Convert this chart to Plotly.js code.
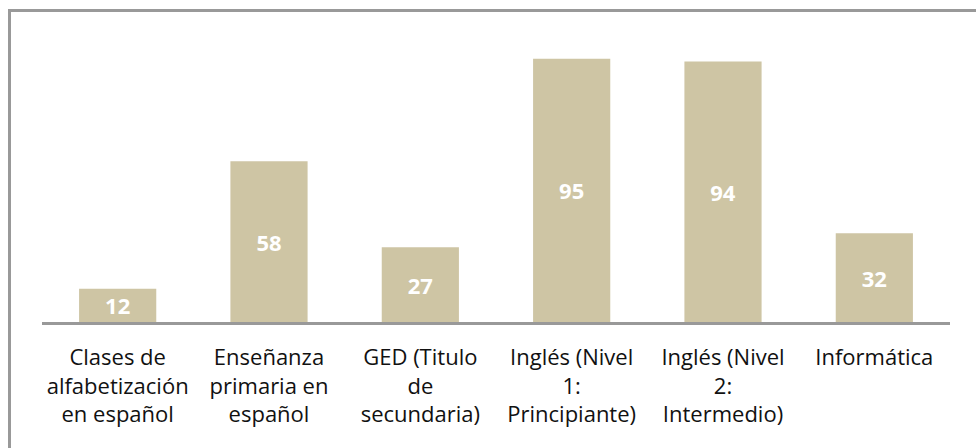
<!DOCTYPE html>
<html>
<head>
<meta charset="utf-8">
<script src="https://cdn.plot.ly/plotly-3.0.1.min.js"></script>
<style>
  html, body { margin: 0; padding: 0; background: #fff; overflow: hidden; }
  #wrap { position: relative; width: 976px; height: 448px; overflow: hidden; }
  #chart { position: absolute; left: 0; top: 0; width: 976px; height: 448px; }
  #frame { position: absolute; left: 8px; top: 9px; width: 2000px; height: 2000px;
           border: 3px solid #999; pointer-events: none; box-sizing: border-box; }
</style>
</head>
<body>
<div id="wrap">
  <div id="chart"></div>
  <div id="frame"></div>
</div>
<script>
const categories = [
  "Clases de<br>alfabetización<br>en español",
  "Enseñanza<br>primaria en<br>español",
  "GED (Titulo<br>de<br>secundaria)",
  "Inglés (Nivel<br>1:<br>Principiante)",
  "Inglés (Nivel<br>2:<br>Intermedio)",
  "Informática"
];
const values = [12, 58, 27, 95, 94, 32];

const trace = {
  type: "bar",
  x: categories,
  y: values,
  text: values.map(String),
  textposition: "inside",
  insidetextanchor: "middle",
  textangle: 0,
  constraintext: "none",
  textfont: { family: "Open Sans, sans-serif", size: 22, color: "#ffffff", weight: 700 },
  marker: { color: "#CEC5A4", line: { width: 0 } },
  hoverinfo: "none"
};

const layout = {
  width: 976,
  height: 448,
  margin: { l: 42, r: 26, t: 45, b: 126, pad: 0 },
  paper_bgcolor: "#ffffff",
  plot_bgcolor: "#ffffff",
  bargap: 0.49,
  showlegend: false,
  font: { family: "Open Sans, sans-serif", color: "#111111" },
  xaxis: {
    type: "category",
    showline: true,
    linecolor: "#999999",
    linewidth: 2.5,
    ticks: "",
    showgrid: false,
    zeroline: false,
    tickfont: { family: "Open Sans, sans-serif", size: 22, color: "#111111" },
    tickangle: 0,
    ticklabelstandoff: 14,
    automargin: false
  },
  yaxis: {
    range: [0, 100],
    visible: false,
    showgrid: false,
    zeroline: false,
    fixedrange: true
  }
};

Plotly.newPlot("chart", [trace], layout, { displayModeBar: false, staticPlot: true });
</script>
</body>
</html>
